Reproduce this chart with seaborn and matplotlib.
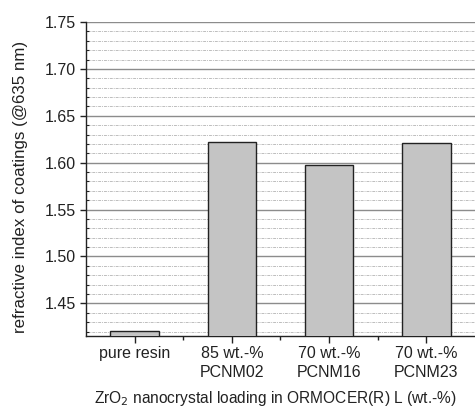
import matplotlib
matplotlib.use("Agg")
import matplotlib.pyplot as plt
from matplotlib.ticker import MultipleLocator, FixedLocator
import seaborn as sns
import pandas as pd

# refractive index of coatings at 635 nm
categories = ["pure resin", "85 wt.-%\nPCNM02", "70 wt.-%\nPCNM16", "70 wt.-%\nPCNM23"]
refractive_index = [1.421, 1.622, 1.598, 1.621]
y_ticks = [1.45, 1.50, 1.55, 1.60, 1.65, 1.70, 1.75]

sns.set_theme(style="white")
plt.rcParams["font.family"] = ["Liberation Sans", "DejaVu Sans"]

df = pd.DataFrame({"sample": categories, "n": refractive_index})

fig = plt.figure(figsize=(4.75, 4.08), dpi=100)
ax = fig.add_axes([0.181, 0.176, 0.819, 0.770])

sns.barplot(data=df, x="sample", y="n", color="#c4c4c4", saturation=1,
            edgecolor="#222222", linewidth=1.0, width=0.5, ax=ax, zorder=3)

ax.set_ylim(1.415, 1.75)
ax.set_xlim(-0.5, 3.5)

ax.yaxis.set_major_locator(FixedLocator(y_ticks))
ax.set_yticklabels([f"{t:.2f}" for t in y_ticks])
ax.yaxis.set_minor_locator(MultipleLocator(0.01))
ax.xaxis.set_minor_locator(FixedLocator([0.5, 1.5, 2.5]))

ax.grid(True, which="major", axis="y", color="#8c8c8c", linewidth=1.0, zorder=1)
ax.grid(True, which="minor", axis="y", color="#bdbdbd", linewidth=0.7,
        linestyle=(0, (3, 1, 1, 1)), zorder=1)
ax.grid(False, axis="x", which="both")
ax.set_axisbelow(True)

for s in ["top", "right"]:
    ax.spines[s].set_visible(False)
for s in ["left", "bottom"]:
    ax.spines[s].set_color("#222222")
    ax.spines[s].set_linewidth(1.0)

ax.tick_params(axis="y", which="major", direction="out", length=4, width=1,
               color="#222222", labelsize=11.5, labelcolor="#222222", pad=3, left=True)
ax.tick_params(axis="y", which="minor", direction="in", length=2.5, width=0.8,
               color="#222222", left=True)
ax.tick_params(axis="x", which="major", direction="out", length=5, width=1,
               color="#222222", labelsize=11.5, labelcolor="#222222", pad=2, bottom=True)
ax.tick_params(axis="x", which="minor", direction="out", length=3, width=1,
               color="#222222", bottom=True)
for lbl in ax.get_xticklabels():
    lbl.set_linespacing(1.3)

ax.set_ylabel("refractive index of coatings (@635 nm)", fontsize=12.2, color="#222222")
ax.yaxis.set_label_coords(-0.168, 0.475)
ax.set_xlabel("ZrO$_2$ nanocrystal loading in ORMOCER(R) L (wt.-%)", fontsize=11.2,
              color="#222222")
ax.xaxis.set_label_coords(0.488, -0.197)
ax.xaxis.label.set_va("center")
ax.yaxis.label.set_va("center")

fig.savefig("out.png", dpi=100)
